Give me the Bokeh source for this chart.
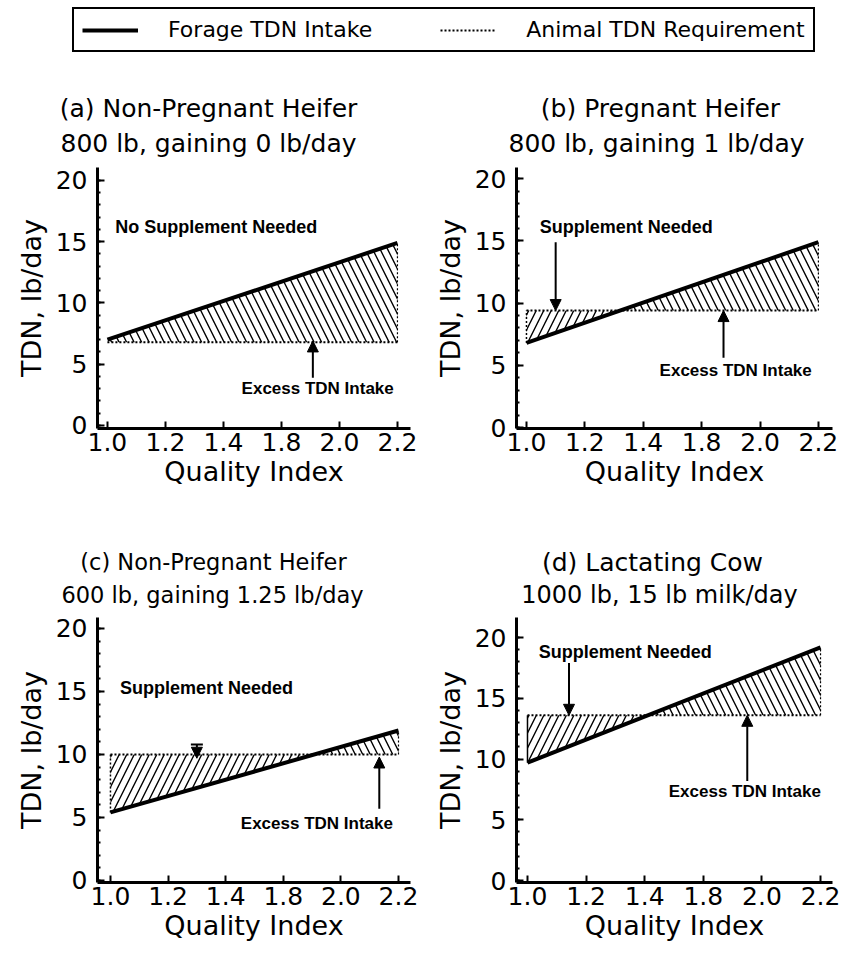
import numpy as np
from bokeh.plotting import figure
from bokeh.layouts import column, row
from bokeh.models import (Range1d, FixedTicker, Label, Arrow, NormalHead, TeeHead,
                          Legend, LegendItem)
from bokeh.embed import file_html
from bokeh.resources import INLINE

# ---------------- data ----------------
quality_index = [1.0, 2.2]                      # x extent of every forage line
x_tick_labels = ["1.0", "1.2", "1.4", "1.8", "2.0", "2.2"]   # as printed (evenly spaced)
y_ticks = [0, 5, 10, 15, 20]

forage_a = [7.0, 14.9]
forage_b = [6.8, 14.9]
forage_c = [5.4, 11.9]
forage_d = [9.7, 19.2]

requirement_a = 6.8
requirement_b = 9.4
requirement_c = 10.0
requirement_d = 13.6

titles_a = ["(a) Non-Pregnant Heifer", "800 lb, gaining 0 lb/day"]
titles_b = ["(b) Pregnant Heifer", "800 lb, gaining 1 lb/day"]
titles_c = ["(c) Non-Pregnant Heifer", "600 lb, gaining 1.25 lb/day"]
titles_d = ["(d) Lactating Cow", "1000 lb, 15 lb milk/day"]

legend_labels = ["Forage TDN Intake", "Animal TDN Requirement"]
x_label = "Quality Index"
y_label = "TDN, lb/day"
supp_text = "Supplement Needed"
no_supp_text = "No Supplement Needed"
excess_text = "Excess TDN Intake"

TITLE_FONT = "DejaVu Sans"
TICK_FONT = "DejaVu Sans"
NOTE_FONT = "Liberation Sans"

panels = [
    dict(forage=forage_a, req=requirement_a, titles=titles_a, title_size=["25px", "25px"],
         w=420, h=342, bl=97, br=10, bt=9, bb=72,
         xr=(0.959, 2.254), yr=(-0.25, 21.06),
         title_pos=[(208, 108), (208, 143)],
         notes=[(no_supp_text, 1.45, 16.2), (excess_text, 1.87, 3.0)],
         arrows=[(1.85, 3.9, 1.85, 6.9, False)],
         left_edge=None),
    dict(forage=forage_b, req=requirement_b, titles=titles_b, title_size=["25px", "25px"],
         w=421, h=342, bl=96, br=9, bt=9, bb=72,
         xr=(0.959, 2.258), yr=(-0.08, 20.9),
         title_pos=[(660, 108), (656, 143)],
         notes=[(supp_text, 1.41, 16.1), (excess_text, 1.86, 4.6)],
         arrows=[(1.12, 14.9, 1.12, 9.4, False), (1.81, 5.6, 1.81, 9.4, False)],
         left_edge="dotted"),
    dict(forage=forage_c, req=requirement_c, titles=titles_c, title_size=["22.5px", "22.5px"],
         w=420, h=349, bl=97, br=10, bt=9, bb=75,
         xr=(0.946, 2.25), yr=(-0.16, 20.87),
         title_pos=[(213, 561), (212, 594)],
         notes=[(supp_text, 1.40, 15.3), (excess_text, 1.86, 4.5)],
         arrows=[(1.36, 10.8, 1.36, 9.7, True), (2.12, 5.7, 2.12, 9.8, False)],
         left_edge="dotted"),
    dict(forage=forage_d, req=requirement_d, titles=titles_d, title_size=["25px", "24px"],
         w=421, h=349, bl=96, br=9, bt=9, bb=75,
         xr=(0.955, 2.249), yr=(-0.16, 21.65),
         title_pos=[(652, 562), (659, 594)],
         notes=[(supp_text, 1.40, 18.8), (excess_text, 1.89, 7.3)],
         arrows=[(1.17, 17.9, 1.17, 13.6, False), (1.90, 8.2, 1.90, 13.6, False)],
         left_edge="solid"),
]


def make_panel(cfg):
    p = figure(width=cfg["w"], height=cfg["h"], title=None, toolbar_location=None,
               output_backend="svg", x_range=Range1d(*cfg["xr"]), y_range=Range1d(*cfg["yr"]),
               min_border_left=cfg["bl"], min_border_right=cfg["br"],
               min_border_top=cfg["bt"], min_border_bottom=cfg["bb"])
    p.outline_line_color = None
    p.grid.visible = False
    p.background_fill_color = "white"
    p.border_fill_color = "white"

    x0, x1 = quality_index
    f0, f1 = cfg["forage"]
    req = cfg["req"]
    slope = (f1 - f0) / (x1 - x0)
    x_int = x0 + (req - f0) / slope

    # supplement-needed region (forage below requirement)
    if x_int > x0:
        xs = [x0, min(x_int, x1)]
        p.varea(x=xs, y1=[f0, f0 + slope * (xs[1] - x0)], y2=[req, req],
                fill_alpha=0, hatch_pattern="/", hatch_color="black",
                hatch_scale=15, hatch_weight=1.4)
        p.line(x=[x0, x0], y=[f0, req], line_color="black", line_width=1.5,
               line_dash="solid" if cfg["left_edge"] == "solid" else "2 2")
    # excess region (forage above requirement)
    if x_int < x1:
        xs = [max(x_int, x0), x1]
        p.varea(x=xs, y1=[req, req], y2=[f0 + slope * (xs[0] - x0), f1],
                fill_alpha=0, hatch_pattern="\\", hatch_color="black",
                hatch_scale=15, hatch_weight=1.4)
        p.line(x=[x1, x1], y=[req, f1], line_color="black", line_width=1.2,
               line_dash="2 2")

    p.line(x=quality_index, y=[req, req], line_color="black", line_width=2,
           line_dash="2 2")
    p.line(x=quality_index, y=cfg["forage"], line_color="black", line_width=4)

    # axes
    xt = [float(v) for v in np.linspace(x0, x1, len(x_tick_labels))]
    p.xaxis.ticker = FixedTicker(ticks=xt)
    p.xaxis.major_label_overrides = {v: lbl for v, lbl in zip(xt, x_tick_labels)}
    p.yaxis.ticker = FixedTicker(ticks=y_ticks, minor_ticks=list(range(0, 21)))
    for ax in (p.xaxis[0], p.yaxis[0]):
        ax.axis_line_width = 3
        ax.axis_line_color = "black"
        ax.major_tick_in = 7
        ax.major_tick_out = 0
        ax.major_tick_line_width = 2
        ax.major_label_text_font = TICK_FONT
        ax.major_label_text_font_size = "25px"
        ax.major_label_text_color = "black"
        ax.axis_label_text_font = TICK_FONT
        ax.axis_label_text_font_style = "normal"
        ax.axis_label_text_color = "black"
    p.xaxis.minor_tick_line_color = None
    p.yaxis.minor_tick_in = 3
    p.yaxis.minor_tick_out = 0
    p.yaxis.minor_tick_line_width = 2
    p.xaxis.major_label_standoff = 4
    p.yaxis.major_label_standoff = 10
    p.xaxis.axis_label = x_label
    p.yaxis.axis_label = y_label
    p.xaxis.axis_label_text_font_size = "27px"
    p.yaxis.axis_label_text_font_size = "27px"
    p.xaxis.axis_label_standoff = 2
    p.yaxis.axis_label_standoff = 6

    for txt, nx, ny in cfg["notes"]:
        p.add_layout(Label(x=nx, y=ny, text=txt, text_align="center",
                           text_baseline="middle", text_font=NOTE_FONT,
                           text_font_style="bold",
                           text_font_size="17px" if txt == excess_text else "18px",
                           text_color="black"))

    for (ax0, ay0, ax1, ay1, tee) in cfg["arrows"]:
        p.add_layout(Arrow(x_start=ax0, y_start=ay0, x_end=ax1, y_end=ay1,
                           line_width=2, line_color="black",
                           start=TeeHead(size=12, line_width=2) if tee else None,
                           end=NormalHead(size=11, fill_color="black",
                                          line_color="black")))
    return p


def make_title_strip(height, cfgs, y_top):
    """A strip in page-pixel coordinates that carries the two-line panel titles."""
    s = figure(width=841, height=height, title=None, toolbar_location=None,
               output_backend="svg", x_range=Range1d(0, 841),
               y_range=Range1d(y_top + height, y_top), min_border=0,
               x_axis_location=None, y_axis_location=None)
    s.outline_line_color = None
    s.grid.visible = False
    for cfg in cfgs:
        for txt, (fx, fy), fs in zip(cfg["titles"], cfg["title_pos"], cfg["title_size"]):
            s.add_layout(Label(x=fx, y=fy, text=txt, text_align="center",
                               text_baseline="middle", text_font=TITLE_FONT,
                               text_font_size=fs, text_color="black"))
    return s


# title strips: row 1 titles sit 80..158 px, row 2 titles 500..608 px on the page
strip_top = make_title_strip(78, panels[:2], 80)
strip_bottom = make_title_strip(108, panels[2:], 500)

figs = [make_panel(c) for c in panels]

# legend strip
leg = figure(width=841, height=80, title=None, toolbar_location=None, output_backend="svg",
             x_range=Range1d(0, 1), y_range=Range1d(0, 1), min_border=0,
             x_axis_location=None, y_axis_location=None)
leg.outline_line_color = None
leg.grid.visible = False
r_forage = leg.line(x=[-10, -9], y=[-10, -9], line_color="black", line_width=4)
r_req = leg.line(x=[-10, -9], y=[-10, -9], line_color="black", line_width=2, line_dash="2 2")
legend = Legend(items=[LegendItem(label=legend_labels[0], renderers=[r_forage]),
                       LegendItem(label=legend_labels[1], renderers=[r_req])],
                orientation="horizontal", location=(72, 28),
                border_line_color="black", border_line_width=2, border_line_alpha=1,
                background_fill_color="white", background_fill_alpha=1,
                padding=8, spacing=68, glyph_width=56, glyph_height=20,
                label_standoff=30, label_text_font=TITLE_FONT,
                label_text_font_size="22px", label_text_color="black")
leg.add_layout(legend, "center")

layout = column(leg, strip_top, row(figs[0], figs[1], spacing=0), strip_bottom,
                row(figs[2], figs[3], spacing=0), spacing=0)

open("out.html", "w").write(file_html(layout, INLINE))
